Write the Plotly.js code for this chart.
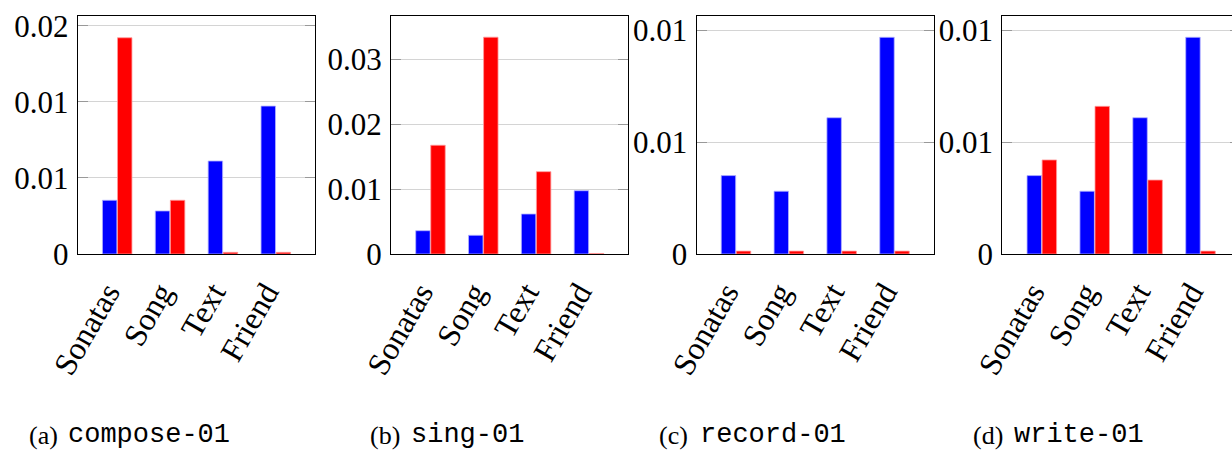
<!DOCTYPE html>
<html>
<head>
<meta charset="utf-8">
<script src="https://cdn.plot.ly/plotly-3.0.1.min.js"></script>
<style>
html,body{margin:0;padding:0;overflow:hidden;background:#fff;}
#chart{width:1245px;height:452px;}
</style>
</head>
<body>
<div id="chart"></div>
<script>
// ---- data ----
const categories = ["Sonatas", "Song", "Text", "Friend"];

const composeBlue = [0.00353, 0.00283, 0.00611, 0.00972];
const composeRed  = [0.01421, 0.00353, 0.00011, 0.00011];

const singBlue = [0.00359, 0.00288, 0.00616, 0.00975];
const singRed  = [0.01675, 0.03339, 0.01268, 0.00008];

const recordBlue = [0.00351, 0.00281, 0.00610, 0.00970];
const recordRed  = [0.00013, 0.00013, 0.00013, 0.00013];

const writeBlue = [0.00351, 0.00281, 0.00610, 0.00970];
const writeRed  = [0.00421, 0.00661, 0.00331, 0.00013];

const tickValsA = [0, 0.005, 0.01, 0.015];
const tickTextA = ["0", "0.01", "0.01", "0.02"];
const tickValsB = [0, 0.01, 0.02, 0.03];
const tickTextB = ["0", "0.01", "0.02", "0.03"];
const tickValsC = [0, 0.005, 0.01];
const tickTextC = ["0", "0.01", "0.01"];

const captionLetters = ["(a)", "(b)", "(c)", "(d)"];
const captionNames = ["compose-01", "sing-01", "record-01", "write-01"];

// ---- layout helpers ----
const W = 1245, H = 452;
const plotTop = 15.7, plotBottom = 254;
const panels = [
  {l: 77.7,  r: 315.3, blue: composeBlue, red: composeRed, tv: tickValsA, tt: tickTextA, ymax: 0.01566, capL: 27,  capC: 66},
  {l: 391.0, r: 628.4, blue: singBlue,    red: singRed,    tv: tickValsB, tt: tickTextB, ymax: 0.0367,  capL: 368, capC: 409},
  {l: 696.5, r: 934.0, blue: recordBlue,  red: recordRed,  tv: tickValsC, tt: tickTextC, ymax: 0.010667, capL: 657, capC: 698},
  {l: 1002.3,r: 1240.0,blue: writeBlue,   red: writeRed,   tv: tickValsC, tt: tickTextC, ymax: 0.010667, capL: 971, capC: 1012}
];

const serif = "Liberation Serif, Times New Roman, serif";
const mono = "Liberation Mono, Courier New, monospace";

const traces = [];
const layout = {
  width: W, height: H,
  margin: {l: 0, r: 0, t: 0, b: 0},
  paper_bgcolor: "#fff", plot_bgcolor: "#fff",
  showlegend: false,
  barmode: "group",
  bargap: 0.43,
  bargroupgap: 0.04,
  annotations: []
};

panels.forEach((p, i) => {
  const n = i === 0 ? "" : String(i + 1);
  const xa = "x" + n, ya = "y" + n;
  traces.push({
    type: "bar", x: categories, y: p.blue, xaxis: xa, yaxis: ya,
    marker: {color: "#0000ff", line: {color: "#b3b3ff", width: 0.8}},
    hoverinfo: "none"
  });
  traces.push({
    type: "bar", x: categories, y: p.red, xaxis: xa, yaxis: ya,
    marker: {color: "#ff0000", line: {color: "#ff9a9a", width: 0.8}},
    hoverinfo: "none"
  });
  layout["xaxis" + n] = {
    domain: [p.l / W, p.r / W],
    anchor: ya,
    range: [-0.747, 3.747],
    type: "category",
    showline: true, mirror: true, linecolor: "#000", linewidth: 1,
    ticks: "", showgrid: false, zeroline: false,
    tickangle: -60,
    ticklabelstandoff: 6,
    ticklabelshift: -10,
    tickfont: {family: serif, size: 32, color: "#000"},
    fixedrange: true
  };
  layout["yaxis" + n] = {
    domain: [(H - plotBottom) / H, (H - plotTop) / H],
    anchor: xa,
    range: [0, p.ymax],
    tickmode: "array", tickvals: p.tv, ticktext: p.tt,
    showline: true, mirror: "ticks", linecolor: "#000", linewidth: 1,
    ticks: "inside", ticklen: 10, tickcolor: "#999", tickwidth: 1,
    showgrid: true, gridcolor: "#d4d4d4", gridwidth: 1,
    zeroline: false,
    tickfont: {family: serif, size: 31, color: "#000"},
    ticklabelstandoff: 2,
    fixedrange: true
  };
  layout.annotations.push({
    xref: "paper", yref: "paper", x: p.capL / W, y: (H - 435) / H,
    xanchor: "left", yanchor: "middle", showarrow: false,
    text: captionLetters[i], font: {family: serif, size: 26, color: "#000"}
  });
  layout.annotations.push({
    xref: "paper", yref: "paper", x: p.capC / W, y: (H - 435) / H,
    xanchor: "left", yanchor: "middle", showarrow: false,
    text: captionNames[i], font: {family: mono, size: 27, color: "#000"}
  });
});

Plotly.newPlot("chart", traces, layout, {staticPlot: true, displayModeBar: false});
</script>
</body>
</html>
